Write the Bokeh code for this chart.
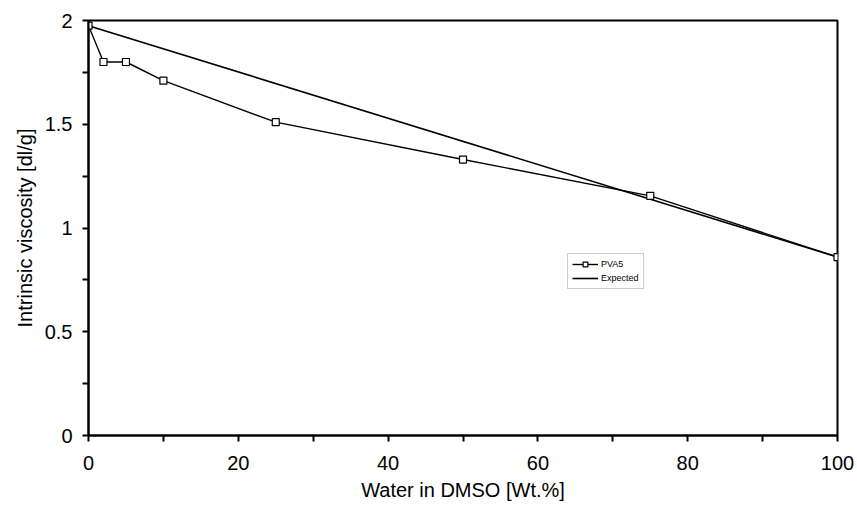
from bokeh.plotting import figure
from bokeh.models import FixedTicker, Legend, LegendItem, Range1d
from bokeh.embed import file_html
from bokeh.resources import INLINE

# Data
water_pct = [0, 2, 5, 10, 25, 50, 75, 100]
pva5_visc = [1.975, 1.80, 1.80, 1.71, 1.51, 1.33, 1.155, 0.86]
expected_x = [0, 100]
expected_y = [1.975, 0.86]

x_major = [0, 20, 40, 60, 80, 100]
x_minor = [10, 30, 50, 70, 90]
y_major = [0, 0.5, 1, 1.5, 2]
y_minor = [0.25, 0.75, 1.25, 1.75]

FONT = "Liberation Sans"

p = figure(width=857, height=507, output_backend="svg", toolbar_location=None,
           x_range=Range1d(0, 100), y_range=Range1d(0, 2),
           min_border_left=88, min_border_right=20, min_border_top=20, min_border_bottom=72)
p.frame_width = 749
p.frame_height = 415
p.xgrid.visible = False
p.ygrid.visible = False
p.outline_line_color = "black"
p.outline_line_width = 2
p.background_fill_color = "white"
p.border_fill_color = "white"

r_exp = p.line(expected_x, expected_y, line_color="black", line_width=1.6)
r_pva_line = p.line(water_pct, pva5_visc, line_color="black", line_width=1.4)
r_pva_pts = p.scatter(water_pct, pva5_visc, marker="square", size=7,
                      line_color="black", fill_color="white", line_width=1.2)

for ax, major, minor, label in [(p.xaxis[0], x_major, x_minor, "Water in DMSO [Wt.%]"),
                                (p.yaxis[0], y_major, y_minor, "Intrinsic viscosity [dl/g]")]:
    ax.ticker = FixedTicker(ticks=major, minor_ticks=minor)
    ax.axis_label = label
    ax.axis_label_text_font = FONT
    ax.axis_label_text_font_size = "20px"
    ax.axis_label_text_font_style = "normal"
    ax.axis_label_text_color = "black"
    ax.major_label_text_font = FONT
    ax.major_label_text_font_size = "20px"
    ax.major_label_text_color = "black"
    ax.axis_line_color = "black"
    ax.axis_line_width = 2
    ax.major_tick_line_color = "black"
    ax.minor_tick_line_color = "black"
    ax.major_tick_line_width = 2
    ax.minor_tick_line_width = 2
    ax.major_tick_in = 0
    ax.major_tick_out = 6
    ax.minor_tick_in = 0
    ax.minor_tick_out = 6

p.xaxis[0].major_label_standoff = 14
p.xaxis[0].axis_label_standoff = 6
p.yaxis[0].major_label_standoff = 10
p.yaxis[0].axis_label_standoff = 6

legend = Legend(items=[LegendItem(label="PVA5", renderers=[r_pva_line, r_pva_pts]),
                       LegendItem(label="Expected", renderers=[r_exp])],
                location=(479, 146))
legend.label_text_font = FONT
legend.label_text_font_size = "9px"
legend.label_text_color = "black"
legend.label_height = 12
legend.glyph_height = 12
legend.glyph_width = 26
legend.label_standoff = 3
legend.spacing = 2
legend.padding = 4
legend.margin = 0
legend.border_line_color = "#999999"
legend.border_line_width = 1
legend.background_fill_alpha = 1
p.add_layout(legend, "center")

open("out.html", "w").write(file_html(p, INLINE))
